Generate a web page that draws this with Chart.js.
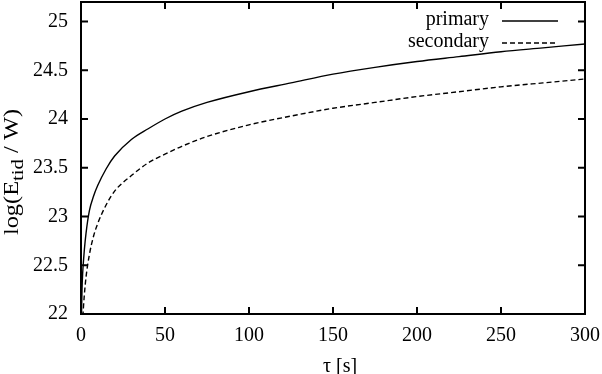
<!DOCTYPE html>
<html>
<head>
<meta charset="utf-8">
<script src="https://cdn.jsdelivr.net/npm/chart.js@4/dist/chart.umd.min.js"></script>
<style>
  html, body { margin: 0; padding: 0; background: #fff; }
  #wrap { width: 602px; height: 374px; }
</style>
</head>
<body>
<div id="wrap"><canvas id="tidchart" width="602" height="374"></canvas></div>
<script>
// values (points below 22 get clipped by the frame)
const tau = [0.3, 0.6, 1, 1.5, 2, 3, 5, 7.5, 10, 15, 20, 30, 40, 50, 60, 75, 100, 125, 150, 175, 200, 225, 250, 275, 300];
const primary = [22.0, 22.25, 22.42, 22.55, 22.66, 22.83, 23.06, 23.21, 23.32, 23.49, 23.62, 23.79, 23.9, 24.0, 24.08, 24.17, 24.28, 24.37, 24.46, 24.53, 24.59, 24.64, 24.69, 24.73, 24.77];
const secondary = [21.4, 21.7, 21.93, 22.08, 22.2, 22.38, 22.61, 22.8, 22.93, 23.12, 23.26, 23.42, 23.55, 23.64, 23.72, 23.82, 23.94, 24.03, 24.11, 24.17, 24.23, 24.28, 24.33, 24.37, 24.41];
const seriesNames = ['primary', 'secondary'];
const xTicks = [0, 50, 100, 150, 200, 250, 300];
const yTicks = [22, 22.5, 23, 23.5, 24, 24.5, 25];

const FONT = '"Liberation Serif", "Times New Roman", serif';

function toPoints(xs, ys) {
    return xs.map((x, i) => ({ x: x, y: ys[i] }));
}

// frame, inward ticks, axis titles and legend like gnuplot
const gnuplotLook = {
    id: 'gnuplotLook',
    afterDraw(chart) {
        const ctx = chart.ctx;
        const a = chart.chartArea;
        const xs = chart.scales.x;
        const ys = chart.scales.y;
        const tl = 7;

        ctx.save();
        ctx.strokeStyle = '#000';
        ctx.lineWidth = 2;
        ctx.strokeRect(a.left, a.top, a.right - a.left, a.bottom - a.top);

        ctx.beginPath();
        xTicks.forEach(v => {
            const px = xs.getPixelForValue(v);
            ctx.moveTo(px, a.bottom); ctx.lineTo(px, a.bottom - tl);
            ctx.moveTo(px, a.top); ctx.lineTo(px, a.top + tl);
        });
        yTicks.forEach(v => {
            const py = ys.getPixelForValue(v);
            ctx.moveTo(a.left, py); ctx.lineTo(a.left + tl, py);
            ctx.moveTo(a.right, py); ctx.lineTo(a.right - tl, py);
        });
        ctx.stroke();

        // x title
        ctx.fillStyle = '#000';
        ctx.font = '20px ' + FONT;
        ctx.textAlign = 'center';
        ctx.textBaseline = 'alphabetic';
        ctx.fillText('τ [s]', 340, 372);

        // y title with subscript, a bit stretched along its length
        ctx.save();
        ctx.translate(18, 172);
        ctx.rotate(-Math.PI / 2);
        ctx.scale(1.22, 1);
        const p1 = 'log(E', sub = 'tid', p2 = ' / W)';
        ctx.font = '20px ' + FONT;
        const w1 = ctx.measureText(p1).width;
        const w3 = ctx.measureText(p2).width;
        ctx.font = '17px ' + FONT;
        const w2 = ctx.measureText(sub).width;
        let x0 = -(w1 + w2 + w3) / 2;
        ctx.textAlign = 'left';
        ctx.font = '20px ' + FONT;
        ctx.fillText(p1, x0, 0);
        ctx.font = '17px ' + FONT;
        ctx.fillText(sub, x0 + w1, 5);
        ctx.font = '20px ' + FONT;
        ctx.fillText(p2, x0 + w1 + w2, 0);
        ctx.restore();

        // legend
        ctx.font = '20px ' + FONT;
        ctx.textAlign = 'right';
        chart.data.datasets.forEach((ds, i) => {
            const base = 25 + i * 22;
            ctx.fillText(ds.label, 489, base);
            ctx.beginPath();
            ctx.lineWidth = ds.borderWidth;
            ctx.setLineDash(ds.borderDash || []);
            ctx.moveTo(502, base - 4);
            ctx.lineTo(558, base - 4);
            ctx.stroke();
        });
        ctx.restore();
    }
};

const ctx = document.getElementById('tidchart').getContext('2d');
const tidchart = new Chart(ctx, {
    type: 'line',
    data: {
        datasets: [{
            label: seriesNames[0],
            data: toPoints(tau, primary),
            borderColor: '#000',
            borderWidth: 1.4,
            pointRadius: 0,
            cubicInterpolationMode: 'monotone'
        }, {
            label: seriesNames[1],
            data: toPoints(tau, secondary),
            borderColor: '#000',
            borderWidth: 1.4,
            borderDash: [5, 3],
            pointRadius: 0,
            cubicInterpolationMode: 'monotone'
        }]
    },
    options: {
        responsive: false,
        animation: false,
        layout: {
            padding: { top: 2, right: 17, left: 0, bottom: 0 }
        },
        plugins: {
            legend: { display: false },
            tooltip: { enabled: false }
        },
        scales: {
            x: {
                type: 'linear',
                min: 0,
                max: 300,
                afterFit: function(scale) {
                    scale.height = 60;
                    scale.paddingLeft = 0;
                    scale.paddingRight = 0;
                },
                afterBuildTicks: function(scale) { scale.ticks = xTicks.map(v => ({ value: v })); },
                grid: { display: false, drawTicks: false },
                border: { display: false },
                ticks: {
                    padding: 10,
                    color: '#000',
                    font: { family: FONT, size: 20 },
                    maxRotation: 0
                }
            },
            y: {
                type: 'linear',
                min: 22,
                max: 25.2,
                afterFit: function(scale) {
                    scale.width = 81;
                    scale.paddingTop = 0;
                    scale.paddingBottom = 0;
                },
                afterBuildTicks: function(scale) { scale.ticks = yTicks.map(v => ({ value: v })); },
                grid: { display: false, drawTicks: false },
                border: { display: false },
                ticks: {
                    padding: 13,
                    color: '#000',
                    font: { family: FONT, size: 20 },
                    callback: function(value) { return String(value); }
                }
            }
        }
    },
    plugins: [gnuplotLook]
});
</script>
</body>
</html>
